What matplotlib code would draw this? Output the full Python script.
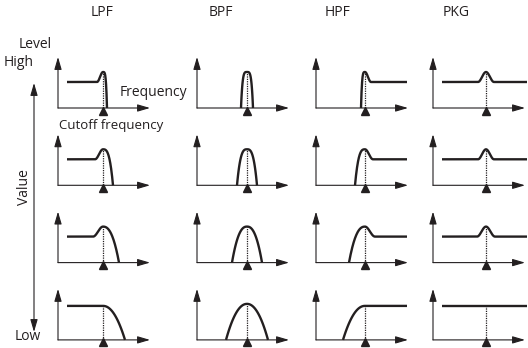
import numpy as np
import matplotlib
matplotlib.use('Agg')
import matplotlib.pyplot as plt

# column headers
filters = ['LPF', 'BPF', 'HPF', 'PKG']
# per Value step (High -> Low)
skirt = [4, 10, 16, 22]        # width of LPF/HPF skirt
bpf_half = [6, 10, 15, 21]     # half bandwidth of BPF
bump = [6, 8, 10, 0]           # width of resonance rise/fall
pkg_half = [8, 8, 9, 0]        # half width of PKG bump
resonance = [1, 1, 1, 0]
roundness = [4, 3, 2.4, 2.1]   # how square the top of the skirt is

flat_lvl = 26
peak_lvl = 36
plain_lvl = 34

# layout (pixels)
col_x = [58, 197, 316, 433]
cut_off = [45, 50, 49, 53]
head_x = [102, 221, 338, 456]
row_y0 = 108
row_step = 77.3
ax_w = 92
ax_h = 51
ink = '#231f20'

plt.rcParams['font.family'] = ['Open Sans', 'DejaVu Sans']

fig = plt.figure(figsize=(5.28, 3.48), dpi=100)
ax = fig.add_axes([0, 0, 1, 1])
ax.set_xlim(0, 528)
ax.set_ylim(348, 0)
ax.axis('off')


def arrow(x0, y0, x1, y1, style='-|>'):
    ax.annotate('', xy=(x1, y1), xytext=(x0, y0),
                arrowprops=dict(arrowstyle=style + ',head_length=0.75,head_width=0.22',
                                color=ink, lw=0.8, shrinkA=0, shrinkB=0))


def lin(a, b, n=60):
    return np.linspace(a, b, n)


def curve(kind, r, c, end):
    w = skirt[r]
    a = bump[r]
    k = roundness[r]
    xs, hs = [], []
    if kind == 'LPF':
        if resonance[r]:
            x = lin(9, c - a); xs.append(x); hs.append(np.full_like(x, flat_lvl))
            x = lin(c - a, c); t = (x - (c - a)) / a
            xs.append(x); hs.append(flat_lvl + (peak_lvl - flat_lvl) * (1 - np.cos(np.pi * t)) / 2)
            top = peak_lvl
        else:
            x = lin(9, c); xs.append(x); hs.append(np.full_like(x, plain_lvl))
            top = plain_lvl
        x = lin(c, c + w); t = (x - c) / w
        xs.append(x); hs.append(top * (1 - t ** k))
    elif kind == 'BPF':
        h = bpf_half[r]
        x = lin(c - h, c + h, 120); t = np.abs(x - c) / h
        xs.append(x); hs.append(peak_lvl * (1 - t ** k))
        top = peak_lvl
    elif kind == 'HPF':
        top = peak_lvl if resonance[r] else plain_lvl
        x = lin(c - w, c); t = (c - x) / w
        xs.append(x); hs.append(top * (1 - t ** k))
        if resonance[r]:
            x = lin(c, c + a); t = (x - c) / a
            xs.append(x); hs.append(peak_lvl - (peak_lvl - flat_lvl) * (1 - np.cos(np.pi * t)) / 2)
            x = lin(c + a, end); xs.append(x); hs.append(np.full_like(x, flat_lvl))
        else:
            x = lin(c, end); xs.append(x); hs.append(np.full_like(x, plain_lvl))
    else:  # PKG
        if resonance[r]:
            b = pkg_half[r]
            x = lin(9, end, 300); t = np.clip((x - c) / b, -1, 1)
            xs.append(x); hs.append(flat_lvl + (peak_lvl - flat_lvl) * (1 + np.cos(np.pi * t)) / 2)
            top = peak_lvl
        else:
            x = lin(9, end); xs.append(x); hs.append(np.full_like(x, plain_lvl))
            top = plain_lvl
    return np.concatenate(xs), np.concatenate(hs), top


for j, name in enumerate(filters):
    ax.text(head_x[j], 12, name, ha='center', va='center', fontsize=10, color=ink)
    ox = col_x[j]
    c = cut_off[j]
    end = ax_w + 2 if name == 'PKG' else ax_w - 1
    for r in range(4):
        oy = row_y0 + r * row_step
        arrow(ox, oy, ox, oy - ax_h)
        arrow(ox, oy, ox + ax_w, oy)
        xs, hs, top = curve(name, r, c, end)
        ax.plot([ox + c, ox + c], [oy, oy - top], color=ink, lw=0.9,
                dashes=(1.0, 0.9), zorder=2)
        ax.plot(ox + xs, oy - hs, color=ink, lw=1.7, solid_capstyle='butt',
                solid_joinstyle='round', zorder=3)
        ax.plot(ox + c, oy + 2.5, marker='^', ms=5.5, color=ink, zorder=4)

# labels
ax.text(35, 45, 'Level', ha='center', va='center', fontsize=10, color=ink)
ax.text(19, 62, 'High', ha='center', va='center', fontsize=10, color=ink)
ax.text(153, 93, 'Frequency', ha='center', va='center', fontsize=10, color=ink)
ax.text(111, 126, 'Cutoff frequency', ha='center', va='center', fontsize=9.5, color=ink)
ax.text(25, 187, 'Value', ha='center', va='center', fontsize=10, color=ink, rotation=90)
ax.text(28, 337, 'Low', ha='center', va='center', fontsize=10, color=ink)
arrow(34, 83, 34, 332, style='<|-|>')

fig.savefig('out.png', dpi=100)
